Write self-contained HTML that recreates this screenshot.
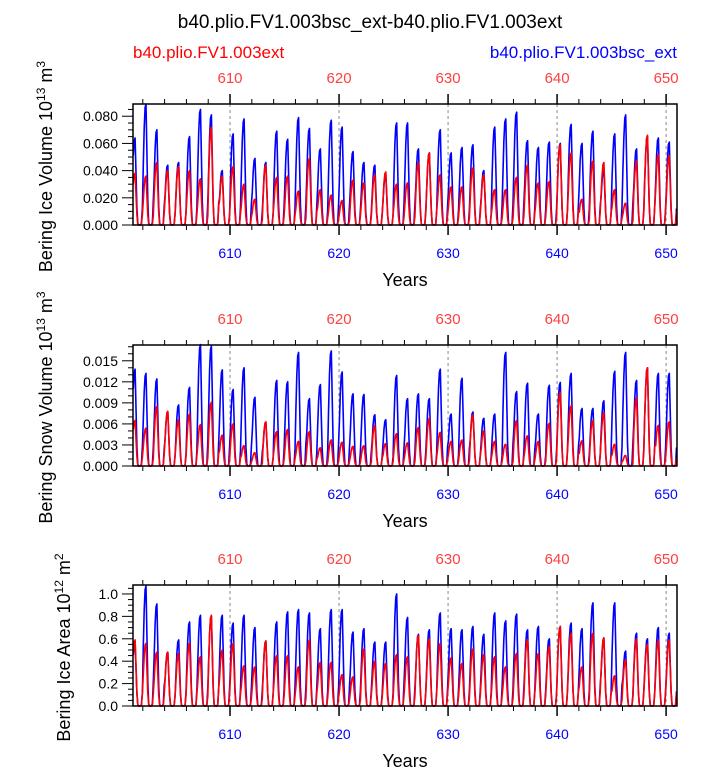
<!DOCTYPE html>
<html><head><meta charset="utf-8"><style>
body{margin:0;background:#fff;}
svg{display:block;font-family:"Liberation Sans",Arial,sans-serif;}
</style></head><body>
<svg id="chart" width="723" height="768" viewBox="0 0 723 768" xmlns="http://www.w3.org/2000/svg">
<text x="370" y="28" font-size="19" text-anchor="middle">b40.plio.FV1.003bsc_ext-b40.plio.FV1.003ext</text>
<text x="133" y="58" font-size="17" fill="#ff0000">b40.plio.FV1.003ext</text>
<text x="677" y="58" font-size="17" fill="#0000ff" text-anchor="end">b40.plio.FV1.003bsc_ext</text>
<g id="plots"></g>
</svg>
<script>
const years = [601,602,603,604,605,606,607,608,609,610,611,612,613,614,615,616,617,618,619,620,621,622,623,624,625,626,627,628,629,630,631,632,633,634,635,636,637,638,639,640,641,642,643,644,645,646,647,648,649,650];
const xTicks = [610,620,630,640,650];
const seasonShape = [0.5,0.8,0.97,1,0.6,0.2,0.02,0,0,0,0.02,0.2];
const iceVolBlue = [0.064,0.089,0.070,0.044,0.046,0.065,0.085,0.081,0.040,0.067,0.078,0.049,0.046,0.069,0.063,0.079,0.071,0.056,0.077,0.072,0.054,0.046,0.044,0.037,0.075,0.075,0.056,0.053,0.070,0.053,0.057,0.059,0.040,0.072,0.078,0.083,0.062,0.057,0.061,0.060,0.074,0.060,0.069,0.041,0.067,0.081,0.056,0.065,0.064,0.061];
const iceVolRed = [0.038,0.036,0.046,0.040,0.043,0.040,0.034,0.072,0.036,0.043,0.030,0.019,0.044,0.035,0.036,0.025,0.049,0.026,0.022,0.018,0.033,0.031,0.037,0.039,0.030,0.031,0.046,0.053,0.037,0.028,0.028,0.042,0.037,0.026,0.026,0.035,0.044,0.031,0.032,0.059,0.053,0.019,0.047,0.046,0.026,0.016,0.047,0.066,0.052,0.051];
const snowBlue = [0.0138,0.0132,0.0124,0.0077,0.0087,0.0112,0.0173,0.0171,0.0137,0.0109,0.0140,0.0098,0.0062,0.0122,0.0120,0.0162,0.0096,0.0116,0.0164,0.0134,0.0103,0.0102,0.0073,0.0066,0.0129,0.0096,0.0103,0.0096,0.0138,0.0074,0.0125,0.0077,0.0068,0.0074,0.0162,0.0106,0.0118,0.0074,0.0115,0.0119,0.0132,0.0082,0.0082,0.0093,0.0135,0.0162,0.0122,0.0140,0.0132,0.0132];
const snowRed = [0.0065,0.0054,0.0085,0.0078,0.0066,0.0074,0.0059,0.0091,0.0044,0.0060,0.0029,0.0019,0.0063,0.0049,0.0052,0.0035,0.0049,0.0026,0.0037,0.0034,0.0028,0.0029,0.0058,0.0032,0.0046,0.0033,0.0055,0.0068,0.0048,0.0035,0.0037,0.0073,0.0050,0.0035,0.0031,0.0065,0.0043,0.0035,0.0061,0.0105,0.0086,0.0036,0.0065,0.0076,0.0031,0.0015,0.0097,0.0140,0.0058,0.0063];
const areaBlue = [0.57,1.07,0.91,0.48,0.59,0.75,0.81,0.80,0.81,0.74,0.81,0.70,0.58,0.75,0.84,0.86,0.83,0.69,0.86,0.86,0.66,0.69,0.57,0.57,1.00,0.79,0.64,0.68,0.83,0.69,0.68,0.71,0.64,0.83,0.76,0.82,0.68,0.71,0.60,0.71,0.74,0.69,0.92,0.60,0.92,0.49,0.65,0.60,0.70,0.65];
const areaRed = [0.59,0.56,0.48,0.48,0.47,0.56,0.44,0.81,0.50,0.56,0.36,0.35,0.58,0.45,0.45,0.35,0.59,0.39,0.39,0.28,0.26,0.51,0.40,0.38,0.46,0.44,0.63,0.60,0.56,0.43,0.38,0.51,0.46,0.44,0.35,0.47,0.59,0.47,0.53,0.71,0.65,0.35,0.65,0.61,0.27,0.41,0.60,0.55,0.59,0.59];
const panel1Ticks = ["0.000","0.020","0.040","0.060","0.080"];
const panel2Ticks = ["0.000","0.003","0.006","0.009","0.012","0.015"];
const panel3Ticks = ["0.0","0.2","0.4","0.6","0.8","1.0"];

const NS="http://www.w3.org/2000/svg";
const root=document.getElementById('plots');
const X0=133,X1=677,T0=601.1,T1=651.0;
function xs(t){return X0+(t-T0)/(T1-T0)*(X1-X0);}
function mk(tag,attrs,parent){const e=document.createElementNS(NS,tag);for(const k in attrs)e.setAttribute(k,attrs[k]);(parent||root).appendChild(e);return e;}

const panels=[
 {top:104,bot:225,ymax:0.089,major:0.02,minor:0.005,ticks:panel1Ticks,blue:iceVolBlue,red:iceVolRed,name:'ice-volume',title:['Bering Ice Volume 10','13',' m','3'],tx:52},
 {top:345,bot:466,ymax:0.01725,major:0.003,minor:0.001,ticks:panel2Ticks,blue:snowBlue,red:snowRed,name:'snow-volume',title:['Bering Snow Volume 10','13',' m','3'],tx:52},
 {top:585,bot:706,ymax:1.08,major:0.2,minor:0.05,ticks:panel3Ticks,blue:areaBlue,red:areaRed,name:'ice-area',title:['Bering Ice Area 10','12',' m','2'],tx:70}
];
panels.forEach(p=>{
 const g=mk('g',{});
 
 
 const ys=v=>p.bot-v/p.ymax*(p.bot-p.top);
 xTicks.forEach(t=>{const l=mk('line',{x1:xs(t),x2:xs(t),y1:p.top,y2:p.bot,stroke:'#888','stroke-dasharray':'3,3','stroke-width':1},g);
  
  });
 [['blue','#0000ff'],['red','#ff0000']].forEach(([s,c])=>{
  const vals=p[s];let pts=[];
  years.forEach((y,i)=>{seasonShape.forEach((f,m)=>{const t=y+(m+0.5)/12;if(t<T0||t>T1)return;pts.push(xs(t).toFixed(1)+','+ys(vals[i]*f).toFixed(1));});});
  const pl=mk('polyline',{points:pts.join(' '),fill:'none',stroke:c,'stroke-width':1.6,'stroke-linejoin':'round'},g);
  
  
 });
 const fr=mk('rect',{x:X0,y:p.top,width:X1-X0,height:p.bot-p.top,fill:'none',stroke:'#000','stroke-width':1.5},g);
 
 
 for(let t=602;t<=650;t+=2){const maj=t%10==0;const L=maj?10:5;
  mk('line',{x1:xs(t),x2:xs(t),y1:p.top,y2:p.top-L,stroke:'#000','stroke-width':maj?1.5:1},g);
  mk('line',{x1:xs(t),x2:xs(t),y1:p.bot,y2:p.bot+L,stroke:'#000','stroke-width':maj?1.5:1},g);}
 xTicks.forEach(t=>{
  const a=mk('text',{x:xs(t),y:p.top-21,'font-size':15,fill:'#ff4040','text-anchor':'middle'},g);a.textContent=t;
  
  
  const b=mk('text',{x:xs(t),y:p.bot+33,'font-size':14,fill:'#0000ff','text-anchor':'middle'},g);b.textContent=t;
  
  
 });
 const xt=mk('text',{x:405,y:p.bot+61,'font-size':18,'text-anchor':'middle'},g);xt.textContent='Years';
 
 
 for(let v=0;v<=p.ymax+1e-9;v+=p.minor){const r=v/p.major;const maj=Math.abs(r-Math.round(r))<1e-6;
  mk('line',{x1:X0,x2:X0-(maj?11:5),y1:ys(v),y2:ys(v),stroke:'#000','stroke-width':1},g);}
 p.ticks.forEach((lab,i)=>{const tl=mk('text',{x:X0-15,y:ys(i*p.major)+5,'font-size':14,'text-anchor':'end'},g);tl.textContent=lab;
  
  });
 const cy=(p.top+p.bot)/2;
 const yt=mk('text',{x:0,y:0,'font-size':18,'text-anchor':'middle',transform:'translate('+p.tx+','+(cy+2)+') rotate(-90)'},g);
 
 
 p.title.forEach((s,i)=>{const ts=mk('tspan',i%2?{'font-size':12,dy:-7}:(i?{dy:7}:{}),yt);ts.textContent=s;});
});
</script>
</body></html>
